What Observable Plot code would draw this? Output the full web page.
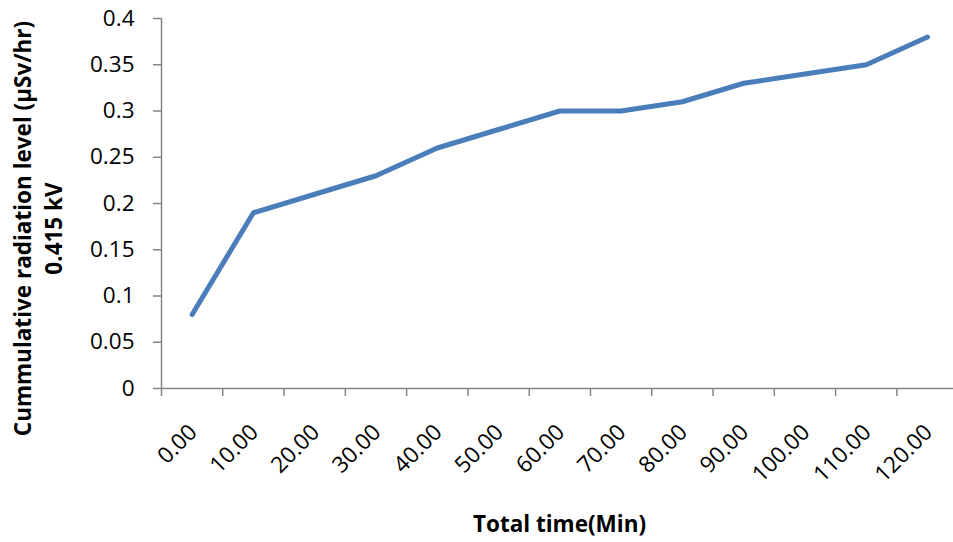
<!DOCTYPE html>
<html>
<head>
<meta charset="utf-8">
<script src="https://cdn.jsdelivr.net/npm/d3@7"></script>
<script src="https://cdn.jsdelivr.net/npm/@observablehq/plot@0.6"></script>
<style>
  html, body { margin: 0; padding: 0; background: #fff; }
  #chart { width: 953px; height: 542px; }
</style>
</head>
<body>
<div id="chart"></div>
<script>
// Data
const times = [0, 10, 20, 30, 40, 50, 60, 70, 80, 90, 100, 110, 120];
const radiation = [0.08, 0.19, 0.21, 0.23, 0.26, 0.28, 0.30, 0.30, 0.31, 0.33, 0.34, 0.35, 0.38];
const yTicks = [0, 0.05, 0.1, 0.15, 0.2, 0.25, 0.3, 0.35, 0.4];
const xBoundaries = [-5, 5, 15, 25, 35, 45, 55, 65, 75, 85, 95, 105, 115, 125];
const xTitle = "Total time(Min)";
const yTitle = "Cummulative radiation level (µSv/hr)\n0.415 kV";

const data = times.map((t, i) => ({time: t, value: radiation[i]}));
const gray = "#868686";
const font = "'Open Sans', Lato, sans-serif";

const chart = Plot.plot({
  width: 953,
  height: 542,
  marginLeft: 161,
  marginRight: 0,
  marginTop: 18,
  marginBottom: 154,
  style: {fontFamily: font, fontSize: "22px", color: "#000", background: "#fff"},
  x: {type: "linear", domain: [-5, 125], range: [161, 957.67]},
  y: {domain: [0, 0.4]},
  marks: [
    Plot.ruleY([0], {stroke: gray, strokeWidth: 1.5}),
    Plot.ruleX([-5], {stroke: gray, strokeWidth: 1.5}),
    Plot.axisY({ticks: yTicks, tickSize: 8, tickPadding: 19, stroke: gray, strokeWidth: 1.5,
      fontSize: 22.5, tickFormat: d => String(+d.toFixed(2)), label: null}),
    Plot.axisX({ticks: xBoundaries, tickSize: 8, stroke: gray, strokeWidth: 1.5,
      tickFormat: () => "", label: null}),
    Plot.axisX({ticks: times, tickSize: 0, tickPadding: 40, tickRotate: -45, dx: 1,
      fontSize: 22.5, tickFormat: d3.format(".2f"), label: null}),
    Plot.line(data, {x: "time", y: "value", stroke: "#4a7ebb", strokeWidth: 5,
      strokeLinecap: "round", strokeLinejoin: "round"}),
    Plot.text([xTitle], {frameAnchor: "bottom", text: d => d, fontWeight: "bold", fontSize: 22.5,
      dx: 2, dy: 136, lineAnchor: "middle"}),
    Plot.text([yTitle], {frameAnchor: "left", text: d => d, fontWeight: "bold", fontSize: 22.5,
      rotate: -90, lineAnchor: "middle", lineHeight: 1.38, textAnchor: "middle",
      dx: -125, dy: 25})
  ]
});
document.getElementById("chart").appendChild(chart);
</script>
</body>
</html>
